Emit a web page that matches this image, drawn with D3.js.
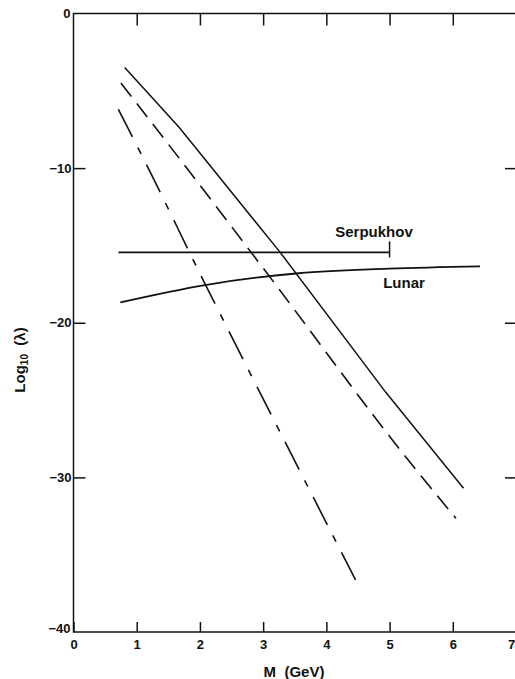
<!DOCTYPE html>
<html><head><meta charset="utf-8">
<script src="https://cdn.jsdelivr.net/npm/d3@7"></script>
<style>html,body{margin:0;padding:0;background:#fff;overflow:hidden}svg{display:block}text{font-family:"Liberation Sans",Arial,sans-serif;font-weight:bold;fill:#111}</style>
</head><body>
<script>
const xTicks = [0,1,2,3,4,5,6,7];
const yTicks = [0,-10,-20,-30,-40];
const solidM = [0.81,1.67,3.27,4.94,6.17];
const solidY = [-3.5,-7.36,-15.45,-24.5,-30.7];
const dashedM = [0.75,1.77,3.08,5.27,6.05];
const dashedY = [-4.5,-9.88,-16.9,-28.75,-32.65];
const dashDotM = [0.71,1.17,2.09,2.45,4.47];
const dashDotY = [-6.2,-9.9,-17.56,-20.48,-36.7];
const lunarM = [0.74,2.08,3.56,5.0,6.43];
const lunarY = [-18.68,-17.56,-16.8,-16.5,-16.35];
const serpM = [0.71,5.0];
const serpY = [-15.45,-15.45];

(function(){
const W=515,H=679;
const svg=d3.select("body").append("svg").attr("width",W).attr("height",H);
const x=d3.scaleLinear().domain([0,7]).range([73.5,516]);
const y=d3.scaleLinear().domain([0,-40]).range([13.5,632]);
const ink="#111";

svg.append("rect").attr("x",x(0)).attr("y",y(0)).attr("width",x(7)-x(0)).attr("height",y(-40)-y(0))
  .attr("fill","none").attr("stroke",ink).attr("stroke-width",1.5);

const axB=d3.axisBottom(x).tickValues(xTicks).tickSizeInner(-10).tickSizeOuter(0).tickFormat(d3.format("d"));
const gb=svg.append("g").attr("transform",`translate(0,${y(-40)})`).call(axB);
const axT=d3.axisTop(x).tickValues(xTicks.slice(1,-1)).tickSizeInner(-12).tickSizeOuter(0).tickFormat("");
const gt=svg.append("g").attr("transform",`translate(0,${y(0)})`).call(axT);
const axL=d3.axisLeft(y).tickValues(yTicks.slice(1,-1)).tickSizeInner(-12).tickSizeOuter(0).tickFormat(d=>"\u2212"+Math.abs(d));
const gl=svg.append("g").attr("transform",`translate(${x(0)},0)`).call(axL);
const axR=d3.axisRight(y).tickValues(yTicks.slice(1,-1)).tickSizeInner(-11).tickSizeOuter(0).tickFormat("");
const gr=svg.append("g").attr("transform",`translate(${x(7)},0)`).call(axR);
[gb,gt,gl,gr].forEach(g=>{g.select(".domain").remove();g.selectAll("line").attr("stroke",ink).attr("stroke-width",1.5);});
gb.selectAll("text").attr("font-size",13).attr("font-family","Liberation Sans, Arial").attr("font-weight","bold").attr("fill",ink).attr("dy","0.35em").attr("y",12);
// last x label sits at the window edge; keep it visible
gb.selectAll(".tick").filter(d=>d===7).select("text").attr("x",-5);
gl.selectAll("text").attr("font-size",13).attr("font-family","Liberation Sans, Arial").attr("font-weight","bold").attr("fill",ink).attr("x",-2);
svg.append("text").attr("x",x(0)-3).attr("y",y(0)).attr("dy","0.35em").attr("text-anchor","end").attr("font-size",13).text(yTicks[0]);
svg.append("text").attr("x",x(0)-3).attr("y",y(-40)).attr("dy","0.1em").attr("text-anchor","end").attr("font-size",13).text("\u2212"+Math.abs(yTicks[4]));

const pts=(ms,ys)=>ms.map((m,i)=>[m,ys[i]]);
const lin=d3.line().x(d=>x(d[0])).y(d=>y(d[1]));
const smooth=d3.line().x(d=>x(d[0])).y(d=>y(d[1])).curve(d3.curveMonotoneX);
svg.append("path").attr("d",lin(pts(solidM,solidY))).attr("fill","none").attr("stroke",ink).attr("stroke-width",1.5);
svg.append("path").attr("d",smooth(pts(dashedM,dashedY))).attr("fill","none").attr("stroke",ink).attr("stroke-width",1.6).attr("stroke-dasharray","17,9");
svg.append("path").attr("d",smooth(pts(dashDotM,dashDotY))).attr("fill","none").attr("stroke",ink).attr("stroke-width",1.6).attr("stroke-dasharray","31,12,7,12");
svg.append("path").attr("d",smooth(pts(lunarM,lunarY))).attr("fill","none").attr("stroke",ink).attr("stroke-width",1.8);
svg.append("path").attr("d",lin(pts(serpM,serpY))).attr("fill","none").attr("stroke",ink).attr("stroke-width",1.6);
svg.append("line").attr("x1",x(serpM[1])).attr("x2",x(serpM[1])).attr("y1",y(serpY[1])-11).attr("y2",y(serpY[1])+5).attr("stroke",ink).attr("stroke-width",1.5);

svg.append("text").attr("x",374).attr("y",237).attr("text-anchor","middle").attr("font-size",15).text("Serpukhov");
svg.append("text").attr("x",404).attr("y",288).attr("text-anchor","middle").attr("font-size",15).text("Lunar");
svg.append("text").attr("x",294).attr("y",677).attr("text-anchor","middle").attr("font-size",15).attr("xml:space","preserve")
  .text("M  (GeV)");
const yl=svg.append("text").attr("transform","translate(25,360) rotate(-90)").attr("text-anchor","middle").attr("font-size",15);
yl.append("tspan").text("Log");
yl.append("tspan").attr("font-size",10).attr("dy",3).text("10");
yl.append("tspan").attr("dy",-3).attr("xml:space","preserve").text("  (\u03bb)");
})();
</script>
</body></html>
